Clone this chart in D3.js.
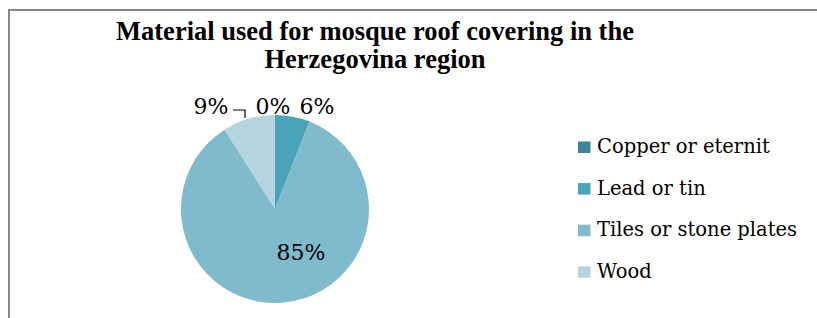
<!DOCTYPE html>
<html><head><meta charset="utf-8">
<script src="https://cdn.jsdelivr.net/npm/d3@7"></script>
<style>body{margin:0;background:#fff}svg{display:block}</style>
</head><body><div id="c"></div>
<script>
const categories = ["Copper or eternit","Lead or tin","Tiles or stone plates","Wood"];
const values = [0, 6, 85, 9];
const colors = ["#3D8598","#4AA3BA","#7FBACD","#B5D4E0"];
const titleLines = ["Material used for mosque roof covering in the","Herzegovina region"];

const W=817,H=318;
const SERIF="'DejaVu Serif', serif";
const svg=d3.select("#c").append("svg").attr("width",W).attr("height",H);
svg.append("path").attr("d",`M9,${H} V10 H${W}`).attr("fill","none").attr("stroke","#888").attr("stroke-width",2);

svg.selectAll("text.title").data(titleLines).join("text").attr("class","title")
  .attr("x",375).attr("y",(d,i)=>40+i*28).attr("text-anchor","middle")
  .attr("font-family","'Liberation Serif', serif").attr("font-weight","bold").attr("font-size",26.5).text(d=>d);

const cx=275,cy=209,r=94;
const pie=d3.pie().sort(null).value(d=>d)(values);
const arc=d3.arc().innerRadius(0).outerRadius(r);
const g=svg.append("g").attr("transform",`translate(${cx},${cy})`);
g.selectAll("path").data(pie).join("path").attr("d",arc).attr("fill",(d,i)=>colors[i]);

// labels
const total=d3.sum(values);
const pct=v=>Math.round(v/total*100)+"%";
const lblPos=[[273,114],[317,114],[301,260],[211,114]];
svg.selectAll("text.lbl").data(values).join("text").attr("class","lbl")
  .attr("x",(d,i)=>lblPos[i][0]).attr("y",(d,i)=>lblPos[i][1]).attr("text-anchor","middle")
  .attr("font-family",SERIF).attr("font-size",22).text(d=>pct(d));
// leader line for Wood
const wa=pie[3]; const mid=(wa.startAngle+wa.endAngle)/2;
const ex=cx+Math.sin(mid)*r, ey=cy-Math.cos(mid)*r;
svg.append("path").attr("d",`M233,110 H245 V118`).attr("fill","none").attr("stroke","#000").attr("stroke-width",1.2);

// legend
const lg=svg.append("g");
const items=lg.selectAll("g").data(categories).join("g").attr("transform",(d,i)=>`translate(578,${153+i*41.6})`);
items.append("rect").attr("y",-11.5).attr("width",12.5).attr("height",11.5).attr("fill",(d,i)=>colors[i]);
items.append("text").attr("x",19).attr("y",0).attr("font-family",SERIF).attr("font-size",19.5).text(d=>d);
</script></body></html>
